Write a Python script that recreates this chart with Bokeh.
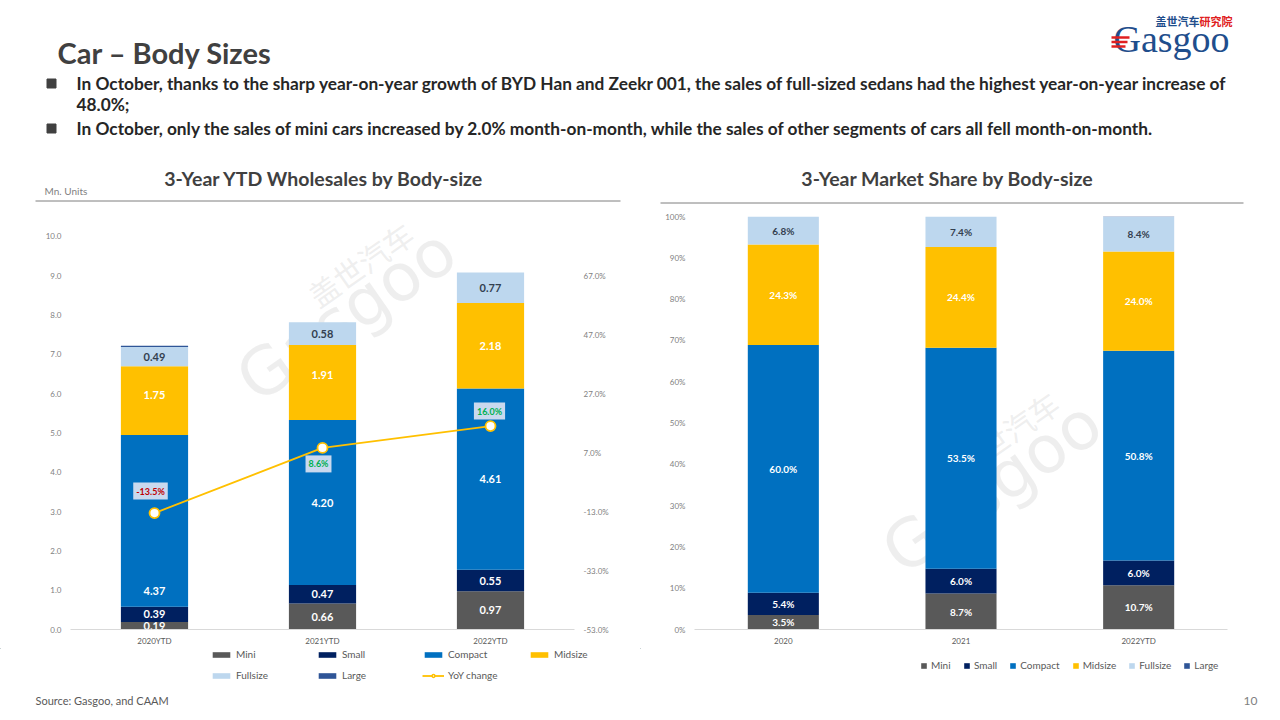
from bokeh.plotting import figure
from bokeh.layouts import column, row
from bokeh.models import (ColumnDataSource, Range1d, LinearAxis, FixedTicker,
                          PrintfTickFormatter, LabelSet, Legend, LegendItem)
from bokeh.core.properties import value, field
from bokeh.embed import file_html
from bokeh.resources import INLINE

FONT = "Lato"

# ---------------- data ----------------
years_ytd = ["2020YTD", "2021YTD", "2022YTD"]
segments = ["Mini", "Small", "Compact", "Midsize", "Fullsize", "Large"]
mini_sales = [0.19, 0.66, 0.97]
small_sales = [0.39, 0.47, 0.55]
compact_sales = [4.37, 4.20, 4.61]
midsize_sales = [1.75, 1.91, 2.18]
fullsize_sales = [0.49, 0.58, 0.77]
large_sales = [0.03, 0.00, 0.00]
yoy_change = [-13.5, 8.6, 16.0]

years_share = ["2020", "2021", "2022YTD"]
mini_share = [3.5, 8.7, 10.7]
small_share = [5.4, 6.0, 6.0]
compact_share = [60.0, 53.5, 50.8]
midsize_share = [24.3, 24.4, 24.0]
fullsize_share = [6.8, 7.4, 8.4]
large_share = [0.0, 0.0, 0.1]

sales_ticks = [0, 1, 2, 3, 4, 5, 6, 7, 8, 9, 10]
yoy_ticks = [-53, -33, -13, 7, 27, 47, 67]
share_ticks = [0, 10, 20, 30, 40, 50, 60, 70, 80, 90, 100]

# ---------------- styling ----------------
seg_colors = ["#595959", "#002060", "#0070C0", "#FFC000", "#BDD7EE", "#2F5597"]
seg_label_colors = ["#FFFFFF", "#FFFFFF", "#FFFFFF", "#FFFFFF", "#333F50", None]
yoy_color = "#FFC000"
yoy_label_colors = ["#C00000", "#00B050", "#00B050"]
yoy_label_dy = [22, -16, 15]
yoy_label_dx = [-4, -4, -1]
# label nudges (screen px) so that a label does not sit on the YoY marker
left_label_nudge = {("2020YTD", "Compact"): -70, ("2020YTD", "Midsize"): 6,
                    ("2021YTD", "Midsize"): 7}

SALES_TOP = (630 - 216) / ((630 - 236) / 10.0)  # so that 10.0 sits at its place
CHART_H = 443
LEG_H = 42
OFF = -1000  # legend-swatch renderers sit far outside the visible range


def seg_label_source(cats, series, fmt, nudge=None):
    nudge = nudge or {}
    xs, ys, ts, cs, offs = [], [], [], [], []
    base = [0.0] * len(cats)
    for name, vals, col in zip(segments, series, seg_label_colors):
        for i, (c, v) in enumerate(zip(cats, vals)):
            if col is not None:
                xs.append(c)
                ys.append(base[i] + v / 2.0)
                ts.append(fmt.format(v))
                cs.append(col)
                offs.append(nudge.get((c, name), 0))
            base[i] += v
    return ColumnDataSource(dict(x=xs, y=ys, text=ts, color=cs, off=offs))


def blank_fig(w, h):
    f = figure(width=w, height=h, x_range=Range1d(0, w), y_range=Range1d(h, 0),
               output_backend="svg", toolbar_location=None, min_border=0,
               x_axis_location=None, y_axis_location=None, title=None)
    f.grid.visible = False
    f.outline_line_color = None
    return f


def make_legend(items, loc, **kw):
    return Legend(items=items, location=loc, orientation="horizontal", margin=0, padding=0,
                  border_line_color=None, background_fill_alpha=0, label_text_font=FONT,
                  label_text_font_size="10px", label_text_color="#595959", label_height=12,
                  **kw)


def style_axes(p):
    for ax in p.yaxis:
        ax.axis_line_color = None
        ax.major_tick_line_color = None
        ax.minor_tick_line_color = None
        ax.major_tick_out = 0
        ax.major_label_text_font = FONT
        ax.major_label_text_font_size = "8px"
        ax.major_label_text_color = "#7F7F7F"
        ax.major_label_standoff = 9
    p.xaxis.axis_line_color = "#D9D9D9"
    p.xaxis.major_tick_line_color = None
    p.xaxis.minor_tick_line_color = None
    p.xaxis.major_tick_out = 0
    p.xaxis.major_label_text_font = FONT
    p.xaxis.major_label_text_font_size = "8px"
    p.xaxis.major_label_text_color = "#595959"
    p.xaxis.major_label_standoff = 6


def watermark(p, x, gx_off, gy, cx_off, cy):
    p.text(x=[x], y=[gy], x_offset=gx_off, text=["Gasgoo"], angle=0.61,
           text_font=value("DejaVu Sans"), text_font_size="66px",
           text_color="#C8C8C8", text_alpha=0.3, text_align="center",
           text_baseline="middle")
    p.text(x=[x], y=[cy], x_offset=cx_off, text=["盖世汽车"], angle=0.61,
           text_font=value("Noto Sans CJK SC"), text_font_size="30px",
           text_color="#C8C8C8", text_alpha=0.3, text_align="center",
           text_baseline="middle")


# ---------------- header ----------------
hdr = blank_fig(1280, 205)
hdr.text(x=[57], y=[52], text=["Car \u2013 Body Sizes"], text_font=value(FONT),
         text_font_size="29px", text_font_style="bold", text_color="#404040",
         text_baseline="middle", text_align="left")
hdr.scatter(x=[51, 51], y=[83, 128], marker="square", size=9, color="#404040")
bullet_lines = [
    "In October, thanks to the sharp year-on-year growth of BYD Han and Zeekr 001, the sales of full-sized sedans had the highest year-on-year increase of",
    "48.0%;",
    "In October, only the sales of mini cars increased by 2.0% month-on-month, while the sales of other segments of cars all fell month-on-month.",
]
hdr.text(x=[76, 76, 76], y=[83, 104, 128], text=bullet_lines, text_font=value(FONT),
         text_font_size="17.3px", text_font_style="bold", text_color="#262626",
         text_baseline="middle", text_align="left")

# logo
hdr.text(x=[1155], y=[20], text=["盖世汽车"], text_font=value("Noto Sans CJK SC"),
         text_font_size="11px", text_font_style="bold", text_color="#1F4E8C",
         text_baseline="middle", text_align="left")
hdr.text(x=[1199], y=[20], text=["研究院"], text_font=value("Noto Sans CJK SC"),
         text_font_size="11px", text_font_style="bold", text_color="#E02020",
         text_baseline="middle", text_align="left")
hdr.text(x=[1113], y=[38], text=["Gasgoo"], text_font=value("Liberation Serif"),
         text_font_size="38px", text_color="#1F4E8C",
         text_baseline="middle", text_align="left")
hdr.segment(x0=[1111, 1111, 1111], y0=[37, 41.5, 46], x1=[1129, 1127, 1125], y1=[37, 41.5, 46],
            line_color="#E02020", line_width=2.5)

# chart titles and rules
hdr.text(x=[326, 947], y=[178, 178],
         text=["3-Year YTD Wholesales  by Body-size", "3-Year Market Share by Body-size"],
         text_font=value(FONT), text_font_size="19.5px", text_font_style="bold",
         text_color="#404040", text_baseline="middle", text_align="center")
hdr.text(x=[44], y=[190], text=["Mn. Units"], text_font=value(FONT), text_font_size="10px",
         text_color="#7F7F7F", text_baseline="middle", text_align="left")
hdr.segment(x0=[35, 660], y0=[200.5, 202.5], x1=[620, 1243], y1=[200.5, 202.5],
            line_color="#7F7F7F", line_width=1)

# ---------------- left chart ----------------
left = figure(width=640, height=CHART_H, x_range=years_ytd, y_range=Range1d(0, SALES_TOP),
              output_backend="svg", toolbar_location=None, title=None,
              min_border_left=70, min_border_right=66, min_border_top=11, min_border_bottom=17)
left.extra_y_ranges = {"pct": Range1d(-53, -53 + 120.0 / 9.0 * SALES_TOP)}
left.grid.visible = False
left.outline_line_color = None
watermark(left, "2021YTD", 24, 8.0, 38, 9.3)

src_l = ColumnDataSource(dict(year=years_ytd, Mini=mini_sales, Small=small_sales,
                              Compact=compact_sales, Midsize=midsize_sales,
                              Fullsize=fullsize_sales, Large=large_sales))
left.vbar_stack(segments, x="year", width=0.4, fill_color=seg_colors,
                line_color=None, source=src_l)

lab_l = seg_label_source(years_ytd, [mini_sales, small_sales, compact_sales, midsize_sales,
                                     fullsize_sales, large_sales], "{:.2f}", left_label_nudge)
left.add_layout(LabelSet(x="x", y="y", text="text", source=lab_l, y_offset="off",
                         text_color=field("color"), text_font=value(FONT),
                         text_font_size="11px", text_font_style="bold",
                         text_align="center", text_baseline="middle"))

left.line(x=years_ytd, y=yoy_change, y_range_name="pct", line_color=yoy_color, line_width=1.8)
left.scatter(x=years_ytd, y=yoy_change, y_range_name="pct", size=10,
             fill_color="#FFFFFF", line_color=yoy_color, line_width=1.8)
yoy_src = ColumnDataSource(dict(x=years_ytd, y=yoy_change,
                                text=["{:.1f}%".format(v) for v in yoy_change],
                                color=yoy_label_colors, dy=[-d for d in yoy_label_dy],
                                dx=yoy_label_dx))
left.text(x="x", y="y", y_range_name="pct", text="text", source=yoy_src,
          x_offset="dx", y_offset="dy", text_color="color", text_font=value(FONT),
          text_font_size="9px", text_font_style="bold", text_align="center",
          text_baseline="middle", background_fill_color="#C9D9EE", padding=3)

left.yaxis.ticker = FixedTicker(ticks=sales_ticks)
left.yaxis.formatter = PrintfTickFormatter(format="%.1f")
pct_axis = LinearAxis(y_range_name="pct", ticker=FixedTicker(ticks=yoy_ticks),
                      formatter=PrintfTickFormatter(format="%.1f%%"))
left.add_layout(pct_axis, "right")
style_axes(left)

# legend strip under the left chart (its swatch renderers lie outside the view)
lleg = blank_fig(640, LEG_H)
sw_l = [lleg.vbar(x=[OFF], top=[OFF + 1], bottom=[OFF], width=1, fill_color=c, line_color=None)
        for c in seg_colors]
yl = lleg.line(x=[OFF, OFF + 1], y=[OFF, OFF], line_color=yoy_color, line_width=1.8)
yp = lleg.scatter(x=[OFF], y=[OFF], size=8, fill_color="#FFFFFF", line_color=yoy_color,
                  line_width=1.5)
items_l = [LegendItem(label=s, renderers=[r]) for s, r in zip(segments, sw_l)]
items_l.append(LegendItem(label="YoY change", renderers=[yl, yp]))
for its, vy in ((items_l[:4], LEG_H - 12), (items_l[4:], LEG_H - 33)):
    lleg.add_layout(make_legend(its, (210, vy), glyph_width=22, glyph_height=7,
                                label_width=80, label_standoff=4, spacing=0))

# ---------------- right chart ----------------
right = figure(width=640, height=CHART_H, x_range=years_share, y_range=Range1d(0, 100),
               output_backend="svg", toolbar_location=None, title=None,
               min_border_left=54, min_border_right=53, min_border_top=11, min_border_bottom=17)
right.grid.visible = False
right.outline_line_color = None
watermark(right, "2021", 31, 34.5, 45, 47.5)

src_r = ColumnDataSource(dict(year=years_share, Mini=mini_share, Small=small_share,
                              Compact=compact_share, Midsize=midsize_share,
                              Fullsize=fullsize_share, Large=large_share))
right.vbar_stack(segments, x="year", width=0.4, fill_color=seg_colors,
                 line_color=None, source=src_r)
lab_r = seg_label_source(years_share, [mini_share, small_share, compact_share, midsize_share,
                                       fullsize_share, large_share], "{:.1f}%")
right.add_layout(LabelSet(x="x", y="y", text="text", source=lab_r, text_color=field("color"),
                          text_font=value(FONT), text_font_size="10px", text_font_style="bold",
                          text_align="center", text_baseline="middle"))

right.yaxis.ticker = FixedTicker(ticks=share_ticks)
right.yaxis.formatter = PrintfTickFormatter(format="%d%%")
style_axes(right)

rleg = blank_fig(640, LEG_H)
sw_r = [rleg.vbar(x=[OFF], top=[OFF + 1], bottom=[OFF], width=1, fill_color=c, line_color=None)
        for c in seg_colors]
rleg.add_layout(make_legend([LegendItem(label=s, renderers=[r]) for s, r in zip(segments, sw_r)],
                            (280, LEG_H - 23), glyph_width=7, glyph_height=7,
                            label_standoff=4, spacing=12))

# ---------------- footer ----------------
ftr = blank_fig(1280, 30)
ftr.text(x=[35], y=[10], text=["Source: Gasgoo, and CAAM"], text_font=value(FONT),
         text_font_size="11px", text_color="#595959", text_baseline="middle", text_align="left")
ftr.text(x=[1250], y=[10], text=["10"], text_font=value(FONT), text_font_size="12px",
         text_color="#7F7F7F", text_baseline="middle", text_align="center")

page = column(hdr, row(left, right), row(lleg, rleg), ftr)
open("out.html", "w").write(file_html(page, INLINE))
